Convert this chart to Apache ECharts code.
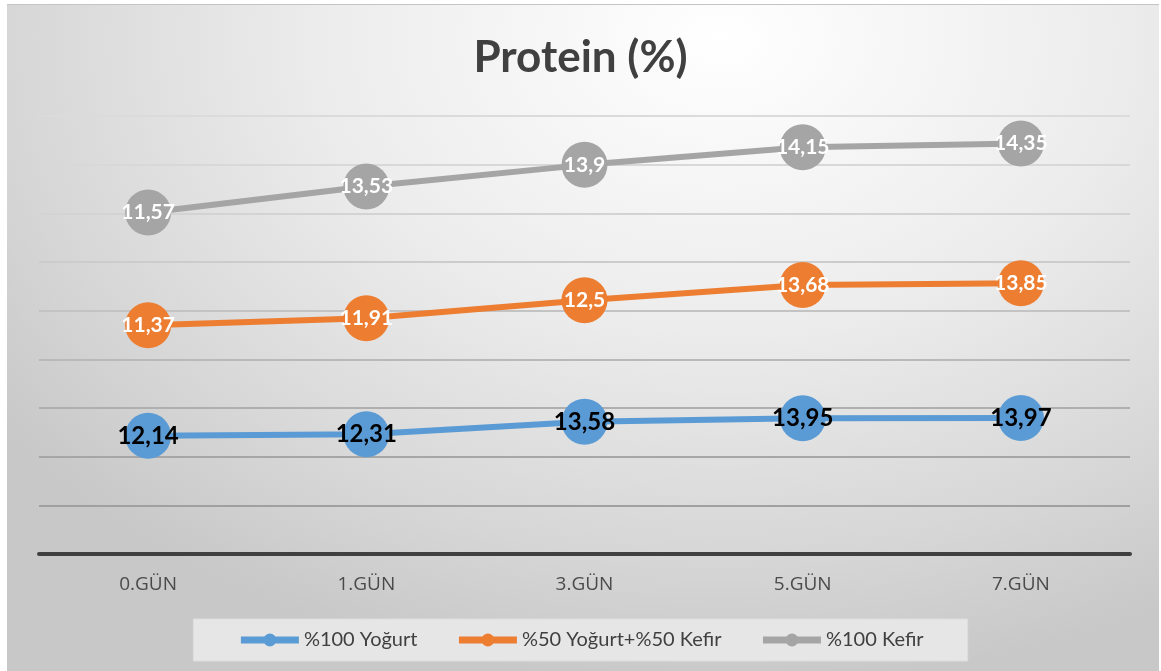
<!DOCTYPE html>
<html>
<head>
<meta charset="utf-8">
<script src="https://cdn.jsdelivr.net/npm/echarts@6/dist/echarts.min.js"></script>
<style>
  html, body { margin: 0; padding: 0; background: #ffffff; }
  #bg {
    position: absolute; left: 7px; top: 4px; width: 1152px; height: 667px;
    border-top: 1px solid #c4c4c4;
    background: radial-gradient(ellipse 900px 650px at 62% 5%, #ffffff 0%, #ececec 45%, #d6d6d6 80%, #c8c8c8 100%);
  }
  #chart { position: absolute; left: 0; top: 0; width: 1161px; height: 671px; }
</style>
</head>
<body>
<div id="bg"></div>
<div id="chart"></div>
<script>
// Günlere göre protein (%) değerleri
const categories = ['0.GÜN', '1.GÜN', '3.GÜN', '5.GÜN', '7.GÜN'];
const yogurt100 = [12.14, 12.31, 13.58, 13.95, 13.97];
const yogurt50kefir50 = [11.37, 11.91, 12.5, 13.68, 13.85];
const kefir100 = [11.57, 13.53, 13.9, 14.15, 14.35];
const seriesNames = ['%100 Yoğurt', '%50 Yoğurt+%50 Kefir', '%100 Kefir'];

const FONT = 'Lato, "Open Sans", sans-serif';
const fmt = p => String(p.value).replace('.', ',');

function lineSeries(name, data, color, labelColor, labelSize) {
  return {
    name: name,
    type: 'line',
    stack: 'toplam',
    data: data,
    symbol: 'circle',
    symbolSize: 46,
    showAllSymbol: true,
    lineStyle: { color: color, width: 6 },
    itemStyle: { color: color },
    label: {
      show: true,
      position: 'inside',
      formatter: fmt,
      color: labelColor,
      fontFamily: FONT,
      fontWeight: 'bold',
      fontSize: labelSize
    },
    emphasis: { disabled: true },
    z: 3
  };
}

const chart = echarts.init(document.getElementById('chart'), null, { renderer: 'canvas' });
chart.setOption({
  backgroundColor: 'transparent',
  animation: false,
  title: {
    text: 'Protein (%)',
    left: 'center',
    top: 31,
    textStyle: { fontFamily: FONT, fontWeight: 'bold', fontSize: 44, color: '#404040' }
  },
  legend: {
    bottom: 10,
    left: 'center',
    data: seriesNames,
    itemWidth: 58,
    itemHeight: 16,
    itemGap: 38,
    padding: [11, 44],
    backgroundColor: '#e6e6e6',
    borderColor: '#dddddd',
    borderWidth: 1,
    lineStyle: { width: 7 },
    textStyle: { fontFamily: FONT, fontSize: 20, color: '#404040' }
  },
  grid: { left: 39, right: 31, top: 116, bottom: 117, containLabel: false },
  xAxis: {
    type: 'category',
    data: categories,
    boundaryGap: true,
    axisLine: { lineStyle: { color: '#404040', width: 4 } },
    axisTick: { show: false },
    axisLabel: { fontFamily: '"Open Sans", sans-serif', fontSize: 19, color: '#4a4a4a', margin: 21 }
  },
  yAxis: {
    type: 'value',
    min: 0,
    max: 45,
    interval: 5,
    axisLabel: { show: false },
    axisLine: { show: false },
    axisTick: { show: false },
    splitLine: {
      lineStyle: {
        width: 2,
        color: ['#9a9a9a', '#a0a0a0', '#a6a6a6', '#afafaf', '#b9b9b9', '#c3c3c3', '#cccccc', '#d3d3d3', '#d8d8d8', '#dbdbdb']
      }
    }
  },
  series: [
    lineSeries(seriesNames[0], yogurt100, '#5b9bd5', '#000000', 24),
    lineSeries(seriesNames[1], yogurt50kefir50, '#ed7d31', '#ffffff', 21),
    lineSeries(seriesNames[2], kefir100, '#a5a5a5', '#ffffff', 21)
  ]
});
</script>
</body>
</html>
